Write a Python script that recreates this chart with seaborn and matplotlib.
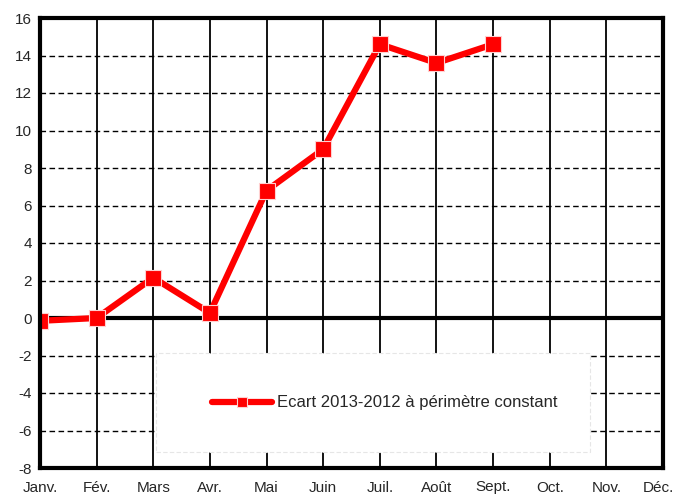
import matplotlib
matplotlib.use("Agg")
import matplotlib.pyplot as plt
import matplotlib.transforms as mtransforms
from matplotlib.patches import Rectangle
import seaborn as sns
import pandas as pd
import numpy as np

months = ["Janv.", "Fév.", "Mars", "Avr.", "Mai", "Juin", "Juil.", "Août", "Sept.", "Oct.", "Nov.", "Déc."]
values = [-0.15, 0.0, 2.15, 0.27, 6.8, 9.0, 14.6, 13.6, 14.6]
yticks = [16, 14, 12, 10, 8, 6, 4, 2, 0, -2, -4, -6, -8]
series_name = "Ecart 2013-2012 à périmètre constant"

sns.set_style("white")
plt.rcParams['font.family'] = ['Liberation Sans Narrow', 'Liberation Sans', 'DejaVu Sans']

df = pd.DataFrame({"x": np.arange(len(values)), "val": values, "serie": series_name})

fig = plt.figure(figsize=(6.76, 4.97), dpi=100)
W, H = 676, 497
ax = fig.add_axes([40 / W, (H - 468) / H, 623 / W, 450 / H])

ax.set_xlim(0, 11)
ax.set_ylim(-8, 16)

# grid
for yv in yticks:
    if yv == 0:
        ax.axhline(0, color="black", lw=3, zorder=2)
    else:
        ax.axhline(yv, color="black", lw=1, ls=(0, (4, 2.5)), zorder=1)
for i in range(len(months)):
    ax.axvline(i, color="black", lw=1.3, zorder=1)

sns.lineplot(data=df, x="x", y="val", hue="serie", palette=["#ff0000"], marker="s",
             markersize=11, markeredgecolor="#ffd0d0", markeredgewidth=0.8,
             linewidth=4.5, ax=ax, zorder=4, legend=True)

ax.set_xticks(range(len(months)))
ax.set_xticklabels(months, fontsize=11)
ax.set_yticks(yticks)
ax.set_yticklabels([str(v) for v in yticks], fontsize=11)
ax.tick_params(axis="y", length=0, pad=6)
ax.tick_params(axis="x", length=0, pad=9)
ax.set_xlabel("")
ax.set_ylabel("")
for s in ax.spines.values():
    s.set_linewidth(3)
    s.set_color("black")
    s.set_zorder(5)

last = ax.get_xticklabels()[-1]
last.set_transform(last.get_transform() + mtransforms.ScaledTranslation(-5 / 100, 0, fig.dpi_scale_trans))

# legend background box (axes fraction coordinates)
bx0, bx1 = (156 - 40) / 623, (590 - 40) / 623
by0, by1 = (468 - 452) / 450, (468 - 353) / 450
box = Rectangle((bx0, by0), bx1 - bx0, by1 - by0, transform=ax.transAxes,
                facecolor="white", edgecolor="#e6e6e6", linewidth=0.8,
                linestyle=(0, (4, 2)), zorder=3)
ax.add_patch(box)

handles, labels = ax.get_legend_handles_labels()
leg = ax.legend(handles, labels, loc="center left",
                bbox_to_anchor=((212 - 40) / 623, (468 - 403) / 450),
                bbox_transform=ax.transAxes, frameon=False,
                fontsize=12, borderpad=0, handlelength=3.6, handletextpad=0.3,
                borderaxespad=0)
leg.set_zorder(3.5)
for h in leg.legend_handles:
    h.set_markersize(7)
    h.set_linewidth(4.5)

fig.savefig("out.png", dpi=100)
